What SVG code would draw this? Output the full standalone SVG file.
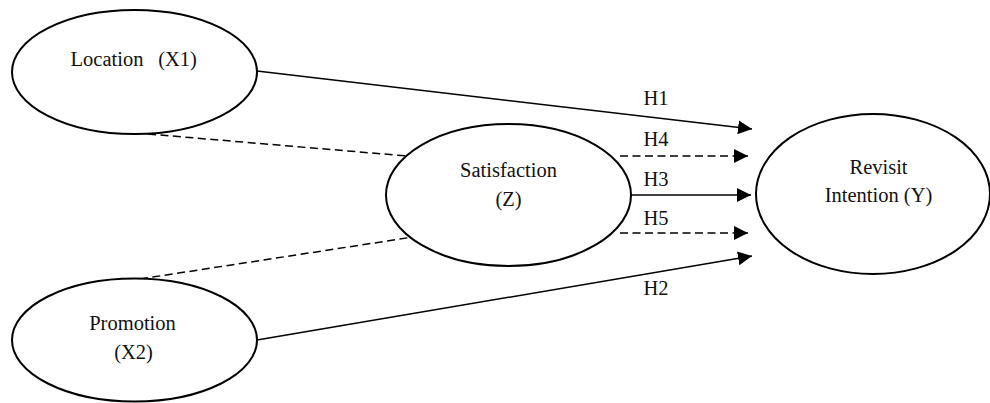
<svg xmlns="http://www.w3.org/2000/svg" width="990" height="403" viewBox="0 0 990 403">
<style>
.node ellipse{fill:#fff;stroke:#000;stroke-width:2}
text{font-family:"Liberation Serif","Times New Roman",serif;font-size:20.5px;fill:#111;text-anchor:middle}
.solid{stroke:#000;stroke-width:1.5;fill:none}
.dash{stroke:#000;stroke-width:1.5;fill:none;stroke-dasharray:8 4.5}
</style>
<defs>
<marker id="ah" markerWidth="14" markerHeight="14" refX="14" refY="7" orient="auto" markerUnits="userSpaceOnUse">
<path d="M0,0 L14,7 L0,14 Z" fill="#000"/>
</marker>
</defs>
<g id="connectors">
<line class="dash" x1="148" y1="134" x2="407" y2="156"/>
<line class="dash" x1="140" y1="279" x2="413" y2="237"/>
<line class="solid" x1="257" y1="71" x2="752" y2="129" marker-end="url(#ah)"/>
<line class="dash" x1="620" y1="156" x2="748" y2="156" marker-end="url(#ah)"/>
<line class="solid" x1="631" y1="195" x2="751" y2="195" marker-end="url(#ah)"/>
<line class="dash" x1="620" y1="233" x2="748" y2="233" marker-end="url(#ah)"/>
<line class="solid" x1="257" y1="340" x2="752" y2="256" marker-end="url(#ah)"/>
<text x="656" y="105">H1</text>
<text x="656" y="146">H4</text>
<text x="656" y="186">H3</text>
<text x="656" y="225">H5</text>
<text x="656" y="295">H2</text>
</g>
<g id="location" class="node">
<ellipse cx="134.5" cy="72" rx="122.5" ry="62"/>
<text x="107" y="66">Location</text>
<text x="177.5" y="66">(X1)</text>
</g>
<g id="satisfaction" class="node">
<ellipse cx="508.5" cy="195" rx="122.5" ry="71"/>
<text x="508.5" y="177">Satisfaction</text>
<text x="508.5" y="206">(Z)</text>
</g>
<g id="promotion" class="node">
<ellipse cx="134.5" cy="340" rx="122.5" ry="61.5"/>
<text x="132.5" y="330">Promotion</text>
<text x="133.5" y="359">(X2)</text>
</g>
<g id="revisit" class="node">
<ellipse cx="873" cy="194" rx="117" ry="80"/>
<text x="878.5" y="174">Revisit</text>
<text x="878.5" y="202">Intention (Y)</text>
</g>
</svg>
